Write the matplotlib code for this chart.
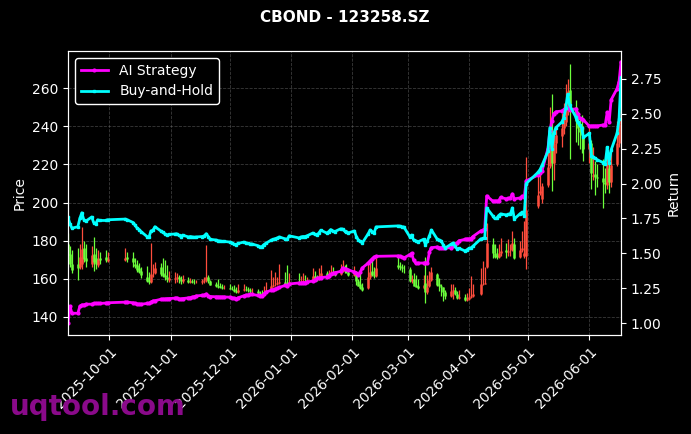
import matplotlib
matplotlib.use("Agg")
import matplotlib.pyplot as plt
import matplotlib.dates as mdates
import numpy as np
import pandas as pd

# ---------------- data ----------------
trade_days = {
    "2025-09": [10, 11, 12, 15, 16, 17, 18, 19, 22, 23, 24, 25, 26, 29, 30],
    "2025-10": [9, 10, 13, 14, 15, 16, 17, 20, 21, 22, 23, 24, 27, 28, 29, 30, 31],
    "2025-11": [3, 4, 5, 6, 7, 10, 11, 12, 13, 14, 17, 18, 19, 20, 21, 24, 25, 26, 27, 28],
    "2025-12": [1, 2, 3, 4, 5, 8, 9, 10, 11, 12, 15, 16, 17, 18, 19, 22, 23, 24, 25, 26, 29, 30, 31],
    "2026-01": [5, 6, 7, 8, 9, 12, 13, 14, 15, 16, 19, 20, 21, 22, 23, 26, 27, 28, 29, 30],
    "2026-02": [2, 3, 4, 5, 6, 9, 10, 11, 12, 13, 24, 25, 26, 27],
    "2026-03": [2, 3, 4, 5, 6, 9, 10, 11, 12, 13, 16, 17, 18, 19, 20, 23, 24, 25, 26, 27, 30, 31],
    "2026-04": [1, 2, 3, 7, 8, 9, 10, 13, 14, 15, 16, 17, 20, 21, 22, 23, 24, 27, 28, 29, 30],
    "2026-05": [6, 7, 8, 11, 12, 13, 14, 15, 18, 19, 20, 21, 22, 25, 26, 27, 28, 29],
    "2026-06": [1, 2, 3, 4, 5, 8, 9, 10, 11, 12, 15, 16, 17],
}

open_p = [
    178, 173, 168, 168, 166, 168, 176, 171, 168, 173, 171, 167, 171, 171.5, 169.5,
    170, 171.5, 171, 168, 167, 165.5, 164, 161, 159.5, 158.5, 163, 163, 166, 163, 162, 161, 159.5,
    160, 160.5, 161, 160, 158.8, 159.5, 158.5, 159, 158.5, 158.3, 158.5, 158.8, 159.3, 160.7, 158.8, 157, 156.3, 156, 155.6, 155.1,
    155.3, 154.8, 154.4, 153.4, 153, 154, 154.8, 154.4, 154, 153.4, 153.6, 152.4, 151.7, 151.4, 153, 154, 156.3, 157, 157.3, 157.8, 158.5, 157.3, 157,
    158.5, 157.8, 158.5, 159, 158.8, 159.5, 161.2, 160.2, 159.7, 161.2, 163, 161.2, 162.2, 163.7, 162.7, 162.5, 164.2, 164.6, 164, 163.7,
    162, 163, 159, 157, 155.5, 155, 161, 164, 162.2, 161.5, 167, 166.5, 166, 165.6,
    165, 158.8, 160, 156.5, 156, 155, 158, 153, 156, 159.3, 162.6, 157, 156.3, 155.6, 153, 151, 153.4, 154.3, 152, 150, 150.5, 148.8,
    149.5, 150.4, 150.8, 152, 157, 157.4, 166, 178, 173.5, 172.5, 171.5, 173.5, 175, 174, 174.4, 175, 178, 171.5, 175, 172, 172,
    198, 205, 202, 209, 219, 235, 221, 231, 235, 239, 242, 249, 259, 250, 243, 239, 237.5, 235,
    228, 231, 214, 215, 213.6, 212.7, 210.7, 209, 218, 211, 220, 231, 241,
]
high_p = [
    184, 177, 175, 176, 178, 187, 180, 178, 177, 182, 176, 175, 174, 175, 174,
    176, 174, 174, 171, 170, 168.5, 166, 166.5, 163.7, 179, 168, 169, 168.5, 171, 170, 167, 164,
    163.5, 163, 162, 161.5, 162, 161, 160.5, 160, 160, 159.5, 160, 161, 177.5, 162, 159.5, 158.5, 160, 158, 157, 156.5,
    157, 156, 156.5, 155.5, 157, 157, 156, 155.5, 155, 155, 154.5, 153.5, 154, 156, 158.5, 164.5, 161, 163.5, 161, 167.5, 163.5, 167, 163,
    163, 161.5, 163, 162, 161, 165.8, 164, 162, 165.5, 167, 164, 164.5, 167.4, 166, 164, 168, 170, 167, 167.5, 165,
    166.5, 164, 160, 163.8, 158, 169, 169, 171, 166, 171, 172.6, 169, 168, 167,
    166.3, 162, 163, 162, 160, 162, 171.6, 162, 164, 166, 162.8, 160.5, 157.4, 155.8, 154, 157.4, 157.4, 155.5, 153.5, 154, 152, 152.5,
    155, 161.6, 157, 165.8, 169.5, 166, 189, 181.6, 178, 176, 178, 181.5, 179, 181, 178, 185, 181.6, 180, 185.3, 190.5, 224,
    215, 217, 210.5, 229, 250, 257, 236, 240, 247, 252, 262, 265, 272.6, 254, 248, 244, 246, 240,
    241, 233, 229, 222, 220, 222.6, 218, 229, 220, 229, 242.6, 244, 272,
]
low_p = [
    168, 166, 163, 159.5, 165, 165, 169, 166, 166, 164, 165, 166, 168, 169, 169,
    169.5, 169, 166, 165.5, 163.5, 163, 160.5, 158.5, 157.5, 158, 161, 162.5, 161.5, 161, 159.5, 158.5, 158.5,
    158, 158.5, 158, 157.5, 158, 158, 158, 158, 157.5, 157.8, 157.5, 158, 158.5, 158, 156.5, 155.5, 155.3, 155, 154.8, 154.5,
    154.5, 154, 153, 152.5, 152.5, 153.5, 153.5, 153, 152.5, 152.5, 151.5, 151, 150.5, 151, 152.5, 153.5, 155.5, 156, 156.5, 157, 156.5, 156.5, 156.5,
    157, 157, 158, 158, 158, 159, 159.5, 159, 159.5, 161, 160.5, 160.5, 162, 162, 161.5, 162, 163.5, 163, 163, 161.5,
    161.5, 156.8, 156, 154.5, 153.5, 154.5, 160, 161.5, 160.5, 161, 165, 164.5, 163.5, 163,
    158.4, 158, 156, 155.5, 154.5, 154.5, 147.4, 152, 155.5, 159, 156, 153.7, 151, 148.4, 149.5, 150.5, 149.5, 151.5, 149.5, 149.5, 148.5, 148.5,
    149, 150, 150.5, 151.5, 156.5, 157, 165.8, 171, 171, 170.5, 171, 172, 171, 172, 172, 174.7, 170.5, 171, 174, 171, 165,
    197, 204, 200, 208, 218, 206, 212, 226, 229, 236, 240, 246, 222.6, 232, 230, 228, 226, 222,
    221, 207, 212, 203.7, 208, 197, 205, 207, 205, 208, 219, 229, 238,
]
close_p = [
    172.5, 167.6, 164.6, 165.6, 171.5, 175.4, 170.5, 169.5, 172.5, 168.6, 167.6, 170.5, 170.0, 170.0, 170.5,
    171.0, 170.5, 168.6, 166.6, 164.6, 163.7, 162.2, 158.8, 158.3, 162.7, 163.2, 165.6, 162.7, 161.7, 160.7, 159.7, 160.2,
    160.5, 160.7, 159.7, 158.8, 159.7, 158.5, 158.8, 158.5, 158.3, 158.5, 158.8, 159.3, 160.7, 158.8, 156.8, 156.3, 155.8, 155.6, 155.3, 155.3,
    154.8, 154.4, 153.4, 152.9, 153.9, 154.8, 154.4, 153.9, 153.6, 153.6, 152.4, 151.7, 151.4, 152.9, 153.9, 156.3, 156.8, 157.3, 157.8, 158.3, 157.3, 156.8, 158.3,
    157.8, 158.5, 158.8, 158.8, 159.3, 161.2, 160.2, 159.7, 161.2, 163.2, 161.2, 162.2, 163.7, 162.7, 162.2, 164.2, 164.6, 163.9, 163.7, 161.9,
    162.7, 158.8, 156.3, 155.3, 154.3, 160.7, 163.4, 162.2, 161.3, 165.5, 166.2, 166.1, 165.6, 165.5,
    158.8, 159.8, 156.3, 155.8, 154.9, 156.8, 152.9, 155.8, 159.3, 163.4, 156.8, 156.3, 155.6, 152.9, 150.7, 153.4, 154.3, 151.9, 150.0, 150.4, 148.7, 149.5,
    150.4, 150.7, 151.9, 157.1, 157.4, 157.8, 178.9, 173.5, 171.5, 171.5, 173.5, 174.6, 174.0, 174.4, 174.6, 178.9, 171.1, 174.9, 175.9, 173.5, 196.0,
    203.8, 205.8, 208.7, 218.5, 235.2, 220.5, 231.3, 235.2, 239.1, 242.1, 248.9, 258.7, 250.9, 243.0, 239.1, 237.2, 235.2, 228.3,
    231.3, 215.6, 214.6, 213.6, 212.7, 210.7, 209.7, 221.5, 210.7, 219.5, 231.3, 241.1, 270.5,
]
ai_return = [
    1.00, 1.12, 1.07, 1.07, 1.12, 1.13, 1.13, 1.135, 1.135, 1.14, 1.14, 1.14, 1.14, 1.143, 1.145,
    1.15, 1.15, 1.145, 1.14, 1.137, 1.136, 1.135, 1.14, 1.14, 1.15, 1.158, 1.16, 1.17, 1.172, 1.172, 1.174, 1.175,
    1.178, 1.18, 1.175, 1.172, 1.175, 1.18, 1.182, 1.185, 1.19, 1.194, 1.198, 1.20, 1.208, 1.195, 1.19, 1.188, 1.188, 1.187, 1.187, 1.187,
    1.185, 1.18, 1.178, 1.172, 1.18, 1.195, 1.20, 1.20, 1.205, 1.205, 1.198, 1.195, 1.194, 1.205, 1.22, 1.235, 1.24, 1.245, 1.25, 1.255, 1.27, 1.265, 1.28,
    1.287, 1.287, 1.29, 1.29, 1.295, 1.30, 1.31, 1.32, 1.323, 1.326, 1.33, 1.34, 1.35, 1.355, 1.36, 1.37, 1.395, 1.39, 1.385, 1.38,
    1.366, 1.359, 1.344, 1.366, 1.395, 1.43, 1.445, 1.46, 1.473, 1.478, 1.481, 1.478, 1.473, 1.466,
    1.49, 1.50, 1.45, 1.43, 1.43, 1.43, 1.43, 1.43, 1.51, 1.54, 1.545, 1.54, 1.54, 1.54, 1.538, 1.54, 1.55, 1.565, 1.575, 1.59, 1.60, 1.603,
    1.603, 1.605, 1.62, 1.66, 1.665, 1.674, 1.911, 1.875, 1.875, 1.875, 1.875, 1.90, 1.89, 1.893, 1.897, 1.925, 1.89, 1.897, 1.91, 1.90, 2.02,
    2.06, 2.075, 2.09, 2.25, 2.38, 2.45, 2.50, 2.514, 2.52, 2.53, 2.542, 2.54, 2.53, 2.535, 2.50, 2.47, 2.46, 2.456,
    2.41, 2.413, 2.413, 2.413, 2.413, 2.42, 2.42, 2.51, 2.44, 2.60, 2.68, 2.73, 2.87,
]
bh_return = [
    1.76, 1.71, 1.68, 1.69, 1.75, 1.79, 1.74, 1.73, 1.76, 1.72, 1.71, 1.74, 1.735, 1.735, 1.74,
    1.745, 1.74, 1.72, 1.70, 1.68, 1.67, 1.655, 1.62, 1.615, 1.66, 1.665, 1.69, 1.66, 1.65, 1.64, 1.63, 1.635,
    1.638, 1.64, 1.63, 1.62, 1.63, 1.617, 1.62, 1.617, 1.615, 1.617, 1.62, 1.625, 1.64, 1.62, 1.60, 1.595, 1.59, 1.588, 1.585, 1.585,
    1.58, 1.575, 1.565, 1.56, 1.57, 1.58, 1.575, 1.57, 1.567, 1.567, 1.555, 1.548, 1.545, 1.56, 1.57, 1.595, 1.60, 1.605, 1.61, 1.617, 1.603, 1.60, 1.625,
    1.61, 1.617, 1.62, 1.62, 1.625, 1.645, 1.635, 1.63, 1.645, 1.665, 1.645, 1.655, 1.67, 1.66, 1.655, 1.675, 1.674, 1.66, 1.655, 1.646,
    1.66, 1.62, 1.595, 1.585, 1.574, 1.64, 1.667, 1.655, 1.646, 1.689, 1.696, 1.695, 1.69, 1.689,
    1.62, 1.631, 1.595, 1.59, 1.581, 1.60, 1.56, 1.59, 1.625, 1.667, 1.60, 1.595, 1.588, 1.56, 1.538, 1.565, 1.574, 1.55, 1.531, 1.535, 1.517, 1.525,
    1.535, 1.538, 1.55, 1.603, 1.606, 1.61, 1.825, 1.77, 1.75, 1.75, 1.77, 1.782, 1.775, 1.78, 1.782, 1.825, 1.746, 1.785, 1.795, 1.77, 2.00,
    2.08, 2.10, 2.13, 2.23, 2.40, 2.25, 2.36, 2.40, 2.44, 2.47, 2.54, 2.64, 2.56, 2.48, 2.44, 2.42, 2.40, 2.33,
    2.36, 2.20, 2.19, 2.18, 2.17, 2.15, 2.14, 2.26, 2.15, 2.24, 2.36, 2.46, 2.76,
]

title_text = "CBOND - 123258.SZ"
watermark = "uqtool.com"

# ---------------- figure ----------------
dates = pd.to_datetime([f"{m}-{d:02d}" for m, days in trade_days.items() for d in days])
o = np.array(open_p); h = np.array(high_p); l = np.array(low_p); c = np.array(close_p)

RED = "#ff4d3d"
GREEN = "#6cff3c"

fig = plt.figure(figsize=(6.91, 4.34), dpi=100, facecolor="black")
ax1 = fig.add_axes([68 / 691, 1 - 335 / 434, (621 - 68) / 691, (335 - 51) / 434])
ax1.set_facecolor("black")
ax2 = ax1.twinx()

up = c >= o
cols = np.where(up, RED, GREEN)
ax1.vlines(dates, l, h, colors=cols, linewidth=0.9)
ax1.vlines(dates, np.minimum(o, c), np.maximum(o, c), colors=cols, linewidth=1.8)

ax2.plot(dates, ai_return, color="#ff00ff", lw=2.0, marker="o", markersize=2, label="AI Strategy")
ax2.plot(dates, bh_return, color="#00ffff", lw=2.0, marker="s", markersize=2, label="Buy-and-Hold")

ax1.set_xlim(dates[0], dates[-1])
ax1.set_ylim(130.5, 279.5)
ax2.set_ylim(0.914, 2.95)
ax1.set_yticks([140, 160, 180, 200, 220, 240, 260])
ax2.set_yticks([1.00, 1.25, 1.50, 1.75, 2.00, 2.25, 2.50, 2.75])
ax2.yaxis.set_major_formatter(matplotlib.ticker.FormatStrFormatter("%.2f"))

ax1.xaxis.set_major_locator(mdates.MonthLocator())
ax1.xaxis.set_major_formatter(mdates.DateFormatter("%Y-%m-%d"))
plt.setp(ax1.get_xticklabels(), rotation=45, ha="right", rotation_mode="anchor")

ax1.grid(True, linestyle="--", color="gray", alpha=0.45, linewidth=0.6)
for ax in (ax1, ax2):
    ax.tick_params(colors="white", labelsize=10)
    for s in ax.spines.values():
        s.set_color("white")
ax1.set_ylabel("Price", color="white", fontsize=10)
ax2.set_ylabel("Return", color="white", fontsize=10)

leg = ax2.legend(loc="upper left", facecolor="black", edgecolor="white",
                 labelcolor="white", fontsize=10)
leg.get_frame().set_alpha(1.0)

fig.text(0.4985, 1 - 18 / 434, title_text, color="white", fontsize=11,
         fontweight="bold", ha="center", va="center")
fig.text(0.015, 0.044, watermark, color="#8a0a8a", fontsize=20,
         fontweight="bold", ha="left", va="baseline")

fig.savefig("out.png", dpi=100, facecolor="black")
